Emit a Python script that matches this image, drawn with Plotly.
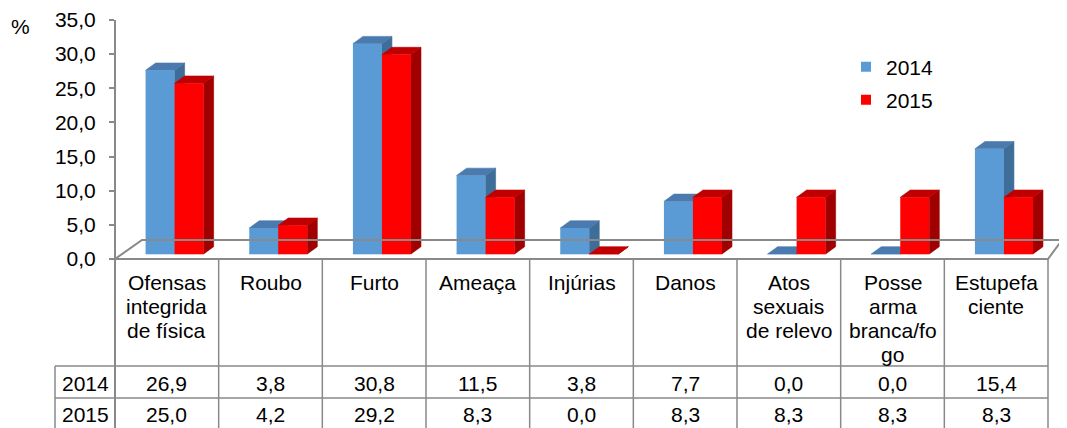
import plotly.graph_objects as go

# ---------------- data ----------------
categories = [
    ["Ofensas", "integrida", "de física"],
    ["Roubo"],
    ["Furto"],
    ["Ameaça"],
    ["Injúrias"],
    ["Danos"],
    ["Atos", "sexuais", "de relevo"],
    ["Posse", "arma", "branca/fo", "go"],
    ["Estupefa", "ciente"],
]
series_names = ["2014", "2015"]
values_2014 = [26.9, 3.8, 30.8, 11.5, 3.8, 7.7, 0.0, 0.0, 15.4]
values_2015 = [25.0, 4.2, 29.2, 8.3, 0.0, 8.3, 8.3, 8.3, 8.3]
y_ticks = [0, 5, 10, 15, 20, 25, 30, 35]
y_tick_labels = ["0,0", "5,0", "10,0", "15,0", "20,0", "25,0", "30,0", "35,0"]

# ---------------- layout geometry (reference window pixels) ----------------
WIN_W, WIN_H = 1067, 428
OFF = 8  # default page body margin
W, H = WIN_W - OFF, WIN_H - OFF
FONT = "Liberation Sans, Arial, sans-serif"
FS = 21
GRAY = "#898989"

n = len(categories)
L_PX, R_PX, T_PX = 115, 1067, 20
TABLE_R_PX = 1048
ZERO_PX = 259
col_px = (TABLE_R_PX - L_PX) / n
x_max = (R_PX - L_PX) / col_px
y_top = 35
py_unit = (ZERO_PX - T_PX) / y_top
B_PX = 263
y_lo = -(B_PX - ZERO_PX) / py_unit


def paper_x(px):
    return (px - L_PX) / (R_PX - L_PX)


def paper_y(py):
    return (B_PX - py) / (B_PX - T_PX)


# 3D bar geometry (in axis units)
base = 5 / py_unit
x_off = 0.295
bw = 0.28
dx = 10 / col_px
dy = 7.3 / py_unit

colors_front = {"2014": "#5B9BD5", "2015": "#FF0000"}
colors_side = {"2014": "#3F6D99", "2015": "#A00000"}
colors_top = {"2014": "#4A7AAE", "2015": "#C00000"}


def polys(vals, xoff):
    fx, fy, sx, sy, tx, ty = [], [], [], [], [], []
    for i, v in enumerate(vals):
        xl = i + xoff
        xr = xl + bw
        y0 = base
        y1 = base + v
        fx += [xl, xr, xr, xl, None]
        fy += [y0, y0, y1, y1, None]
        sx += [xr, xr + dx, xr + dx, xr, None]
        sy += [y0, y0 + dy, y1 + dy, y1, None]
        tx += [xl, xl + dx, xr + dx, xr, None]
        ty += [y1, y1 + dy, y1 + dy, y1, None]
    return (fx, fy), (sx, sy), (tx, ty)


fig = go.Figure()
for name, vals, xo in [("2014", values_2014, x_off), ("2015", values_2015, x_off + bw)]:
    (fx, fy), (sx, sy), (tx, ty) = polys(vals, xo)
    for (px_, py_), col in [((fx, fy), colors_front[name]),
                            ((sx, sy), colors_side[name]),
                            ((tx, ty), colors_top[name])]:
        fig.add_trace(go.Scatter(
            x=px_, y=py_, mode="lines", fill="toself", fillcolor=col,
            line=dict(width=0.6, color=col), hoverinfo="skip", showlegend=False))

# legend entries
for name, lg in [("2014", "legend"), ("2015", "legend2")]:
    fig.add_trace(go.Scatter(
        x=[None], y=[None], mode="markers", name=name, legend=lg,
        marker=dict(symbol="square", size=10, color=colors_front[name])))

shapes = []
# floor (3D base)
back_y = (ZERO_PX - 240) / py_unit
back_l = 27 / col_px
back_r = n + 14 / col_px
shapes.append(dict(type="path", xref="x", yref="y",
                   path=f"M 0,0 L {back_l},{back_y} L {back_r},{back_y} L {n},0 Z",
                   line=dict(color=GRAY, width=2)))
# vertical axis line (continues into table)
shapes.append(dict(type="line", xref="paper", yref="paper", x0=0, x1=0,
                   y0=paper_y(T_PX), y1=paper_y(WIN_H + 5), line=dict(color=GRAY, width=2)))
# table column lines
for k in range(1, n + 1):
    shapes.append(dict(type="line", xref="x", yref="paper", x0=k, x1=k,
                       y0=paper_y(ZERO_PX), y1=paper_y(WIN_H + 5), line=dict(color=GRAY, width=1.5)))
# table row lines
for ry in [366, 398]:
    shapes.append(dict(type="line", xref="x", yref="paper", x0=0, x1=n,
                       y0=paper_y(ry), y1=paper_y(ry), line=dict(color=GRAY, width=1.5)))
    shapes.append(dict(type="line", xref="paper", yref="paper", x0=paper_x(55), x1=0,
                       y0=paper_y(ry), y1=paper_y(ry), line=dict(color=GRAY, width=1.5)))
shapes.append(dict(type="line", xref="paper", yref="paper", x0=paper_x(55), x1=paper_x(55),
                   y0=paper_y(366), y1=paper_y(WIN_H + 5), line=dict(color=GRAY, width=1.5)))

annotations = []
# header labels
for i, lines in enumerate(categories):
    for j, t in enumerate(lines):
        annotations.append(dict(xref="x", yref="paper", x=i + 0.5, y=paper_y(282 + 24 * j),
                                text=t, showarrow=False, xanchor="center", yanchor="middle",
                                font=dict(size=FS, color="black", family=FONT)))
# value rows
for r, (name, vals, ry) in enumerate([("2014", values_2014, 383), ("2015", values_2015, 414)]):
    annotations.append(dict(xref="paper", yref="paper", x=paper_x(85), y=paper_y(ry),
                            text=name, showarrow=False, xanchor="center", yanchor="middle",
                            font=dict(size=FS, color="black", family=FONT)))
    for i, v in enumerate(vals):
        annotations.append(dict(xref="x", yref="paper", x=i + 0.5, y=paper_y(ry),
                                text=f"{v:.1f}".replace(".", ","), showarrow=False,
                                xanchor="center", yanchor="middle",
                                font=dict(size=FS, color="black", family=FONT)))
annotations.append(dict(xref="paper", yref="paper", x=paper_x(20), y=paper_y(27), text="%",
                        showarrow=False, xanchor="center", yanchor="middle",
                        font=dict(size=FS, color="black", family=FONT)))

fig.update_layout(
    width=W, height=H,
    margin=dict(l=L_PX - OFF, r=WIN_W - R_PX, t=T_PX - OFF, b=WIN_H - B_PX, pad=0),
    paper_bgcolor="white", plot_bgcolor="white",
    font=dict(family=FONT, size=FS, color="black"),
    xaxis=dict(range=[0, x_max], showgrid=False, zeroline=False, showline=False,
               showticklabels=False, ticks="", fixedrange=True),
    yaxis=dict(range=[y_lo, y_top], tickvals=y_ticks, ticktext=y_tick_labels,
               ticks="outside", ticklen=5, tickwidth=1.5, tickcolor=GRAY,
               showgrid=False, zeroline=False, showline=False, ticklabelstandoff=9,
               tickfont=dict(size=FS, color="black", family=FONT), fixedrange=True),
    shapes=shapes,
    annotations=annotations,
    legend=dict(x=paper_x(846), y=paper_y(67), xanchor="left", yanchor="middle",
                bgcolor="rgba(0,0,0,0)", font=dict(size=FS, color="black", family=FONT),
                itemsizing="trace"),
    legend2=dict(x=paper_x(846), y=paper_y(100), xanchor="left", yanchor="middle",
                 bgcolor="rgba(0,0,0,0)", font=dict(size=FS, color="black", family=FONT),
                 itemsizing="trace"),
    showlegend=True,
)

fig.write_html("out.html")
